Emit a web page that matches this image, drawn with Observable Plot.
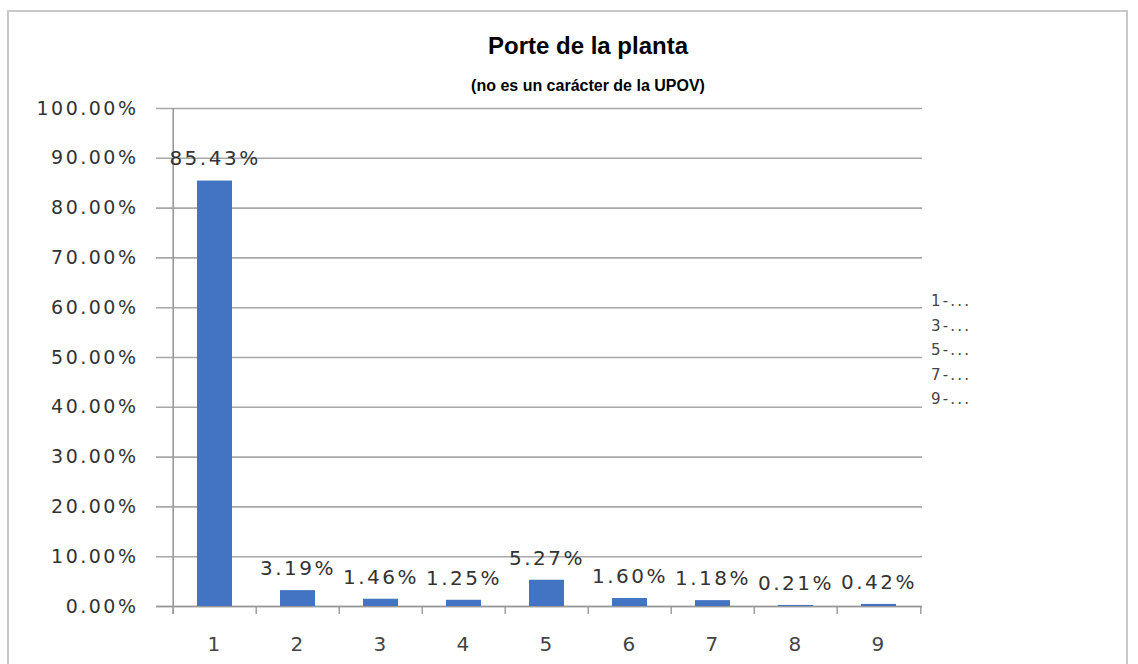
<!DOCTYPE html>
<html>
<head>
<meta charset="utf-8">
<script src="https://cdn.jsdelivr.net/npm/d3@7"></script>
<script src="https://cdn.jsdelivr.net/npm/@observablehq/plot@0.6"></script>
<style>
  html, body { margin: 0; padding: 0; background: #fff; }
  body { width: 1138px; height: 664px; overflow: hidden; position: relative; }
  #frame { position: absolute; left: 7px; top: 10px; width: 1121px; height: 700px; border: 2px solid #c8c8c8; box-sizing: border-box; }
  #title { position: absolute; left: 0; top: 32px; width: 1176px; text-align: center; font-family: "Liberation Sans", Arial, sans-serif; font-weight: bold; font-size: 24px; color: #000; }
  #subtitle { position: absolute; left: 0; top: 77px; width: 1176px; text-align: center; font-family: "Liberation Sans", Arial, sans-serif; font-weight: bold; font-size: 16px; color: #000; }
  #chart { position: absolute; left: 0; top: 80px; }
  #legend { position: absolute; left: 931px; top: 289px; font-family: "DejaVu Sans", sans-serif; font-size: 15px; color: #444; line-height: 24.5px; letter-spacing: 2.2px; }
</style>
</head>
<body>
<div id="frame"></div>
<div id="title">Porte de la planta</div>
<div id="subtitle">(no es un carácter de la UPOV)</div>
<div id="chart"></div>
<div id="legend"></div>
<script>
const categories = ["1", "2", "3", "4", "5", "6", "7", "8", "9"];
const values = [0.8543, 0.0319, 0.0146, 0.0125, 0.0527, 0.0160, 0.0118, 0.0021, 0.0042];
const yTicks = [0, 0.1, 0.2, 0.3, 0.4, 0.5, 0.6, 0.7, 0.8, 0.9, 1.0];
const legendLabels = ["1-...", "3-...", "5-...", "7-...", "9-..."];

const data = categories.map((c, i) => ({cat: c, value: values[i]}));

const W = 1138, H = 584, mt = 28, mb = 58, ml = 170, mr = 216;
const step = (W - ml - mr) / categories.length;
const plotH = H - mt - mb;
const pct = d3.format(".2%");

const chart = Plot.plot({
  width: W,
  height: H,
  marginTop: mt,
  marginBottom: mb,
  marginLeft: ml,
  marginRight: mr,
  style: {fontFamily: "DejaVu Sans, Verdana, sans-serif", letterSpacing: "2.5px", color: "#333", background: "transparent"},
  x: {domain: categories, paddingInner: 0.58, paddingOuter: 0.29, label: null},
  y: {domain: [0, 1], label: null},
  marks: [
    Plot.ruleY(yTicks, {y: d => d, stroke: "#a8a8a8", strokeWidth: 1.6, insetLeft: -14}),
    Plot.ruleY([0], {y: d => d, stroke: "#999", strokeWidth: 1.6, insetLeft: -14}),
    Plot.ruleX([categories[0]], {x: d => d, dx: -step / 2, stroke: "#999", strokeWidth: 1.6, insetBottom: -8}),
    Plot.ruleX(categories, {x: d => d, dx: -step / 2, stroke: "#999", strokeWidth: 1.4, insetTop: plotH, insetBottom: -8}),
    Plot.ruleX([categories[categories.length - 1]], {x: d => d, dx: step / 2, stroke: "#999", strokeWidth: 1.4, insetTop: plotH, insetBottom: -8}),
    Plot.barY(data, {x: "cat", y: "value", fill: "#4374c3"}),
    Plot.text(data, {x: "cat", y: "value", text: d => pct(d.value), dy: -22, lineAnchor: "middle", fontSize: 20, fill: "#333"}),
    Plot.axisY({ticks: yTicks, tickFormat: pct, tickSize: 0, tickPadding: 32, fontSize: 19, fill: "#333", label: null}),
    Plot.axisX({tickSize: 0, tickPadding: 30, fontSize: 20, fill: "#444", label: null})
  ]
});
document.getElementById("chart").appendChild(chart);

const legend = document.getElementById("legend");
legendLabels.forEach(t => {
  const d = document.createElement("div");
  d.textContent = t;
  legend.appendChild(d);
});
</script>
</body>
</html>
